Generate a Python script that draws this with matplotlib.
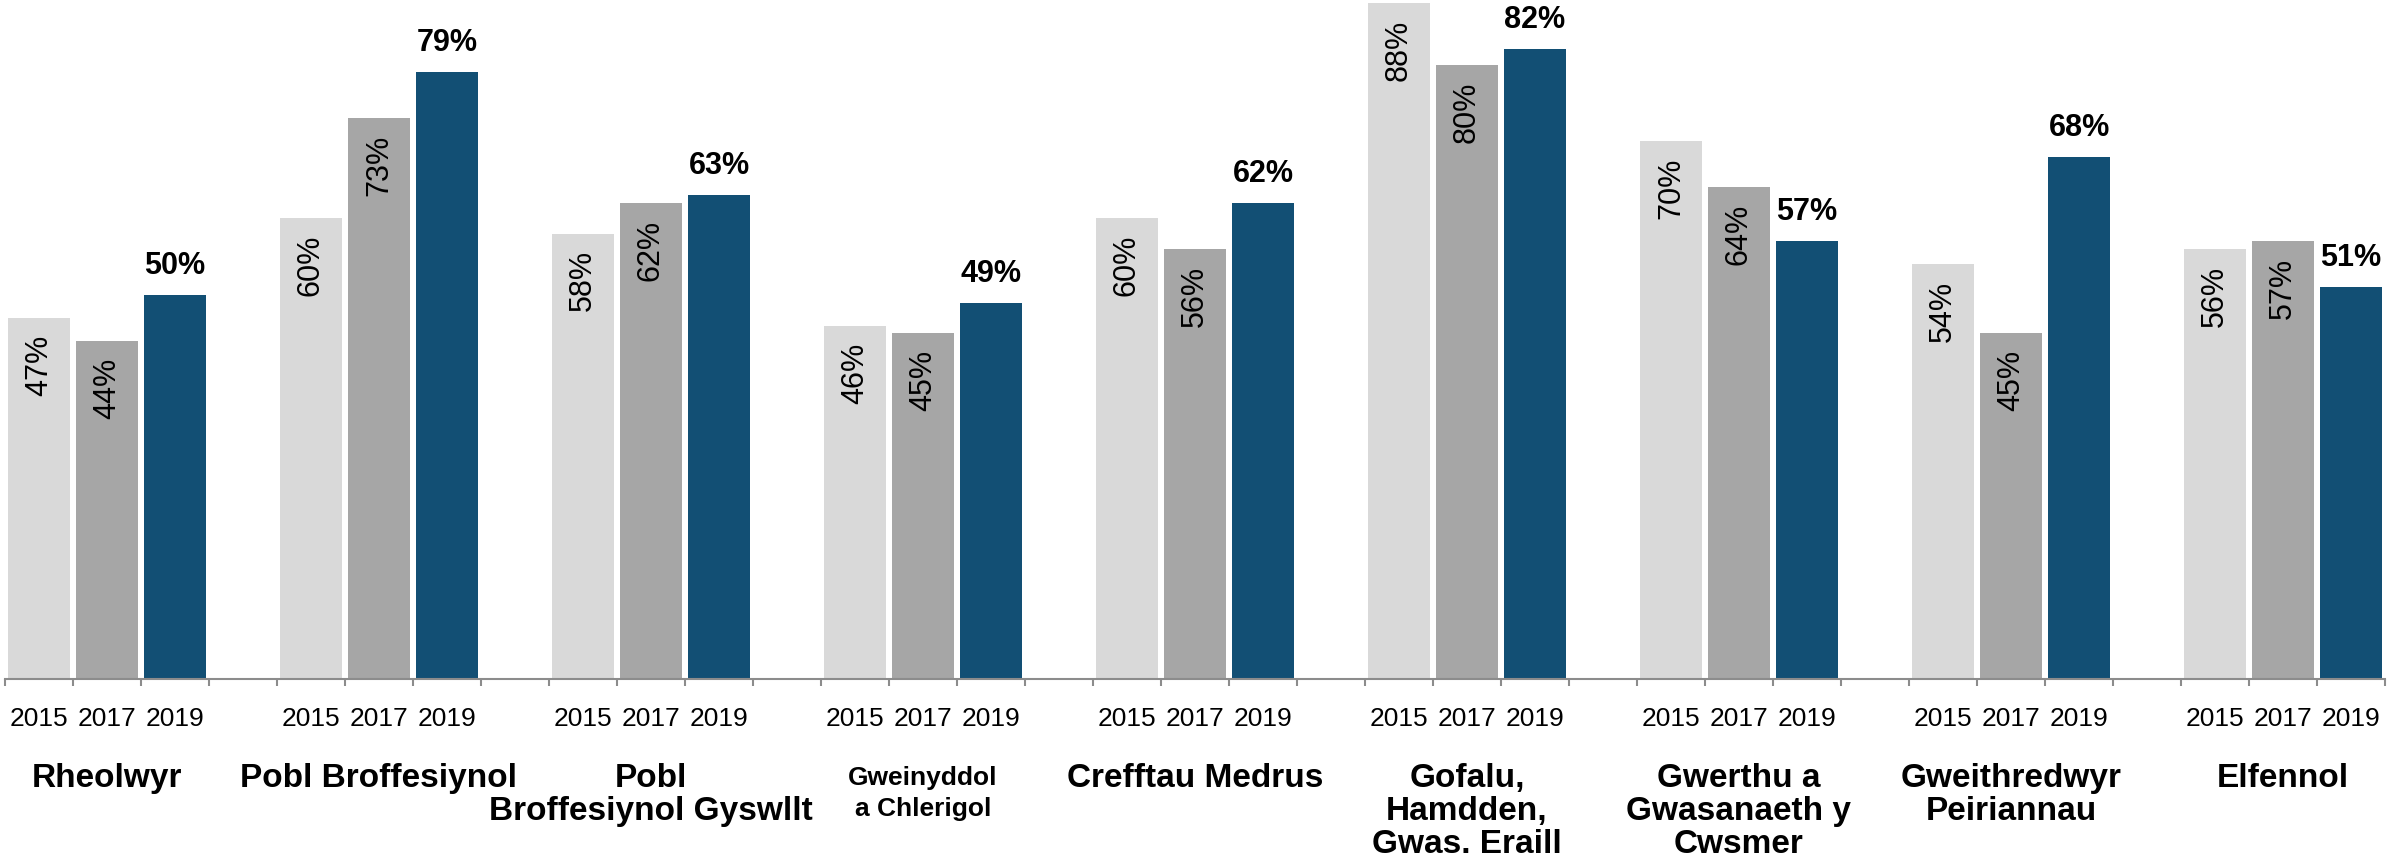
import matplotlib
matplotlib.use("Agg")
import matplotlib.pyplot as plt
import matplotlib.transforms as mtransforms
from matplotlib import font_manager
import numpy as np

# data
categories = ["Rheolwyr", "Pobl Broffesiynol", "Pobl\nBroffesiynol Gyswllt",
              "Gweinyddol\na Chlerigol", "Crefftau Medrus",
              "Gofalu,\nHamdden,\nGwas. Eraill", "Gwerthu a\nGwasanaeth y\nCwsmer",
              "Gweithredwyr\nPeiriannau", "Elfennol"]
cat_sizes = [24, 24, 24, 19, 24, 24, 24, 24, 24]
years = ["2015", "2017", "2019"]
v2015 = [47, 60, 58, 46, 60, 88, 70, 54, 56]
v2017 = [44, 73, 62, 45, 56, 80, 64, 45, 57]
v2019 = [50, 79, 63, 49, 62, 82, 57, 68, 51]

colors = ["#D9D9D9", "#A6A6A6", "#124F74"]

names = {f.name for f in font_manager.fontManager.ttflist}
narrow = "Liberation Sans Narrow" if "Liberation Sans Narrow" in names else "Liberation Sans"

H = 861
fig = plt.figure(figsize=(23.87, 8.61), dpi=100)
ax = fig.add_axes([5 / 2387, 182 / H, 2380 / 2387, 679 / H])

n = len(categories)
group_x = np.arange(n) * 4
series = [v2015, v2017, v2019]
bw = 0.91

for i, vals in enumerate(series):
    xs = group_x + i
    ax.bar(xs, vals, width=bw, color=colors[i], zorder=2)
    for x, v in zip(xs, vals):
        if i < 2:
            ax.annotate(f"{v}%", (x, v), xytext=(0, -12), textcoords="offset points",
                        rotation=90, ha="center", va="top", fontsize=22,
                        family="Liberation Sans", color="black")
        else:
            ax.annotate(f"{v}%", (x, v), xytext=(0, 10), textcoords="offset points",
                        ha="center", va="bottom", fontsize=22, fontweight="bold",
                        family="Liberation Sans", color="black")

ax.set_xlim(-0.5, 4 * n - 1 - 0.5)
ax.set_ylim(0, 679 / 7.68)

# year labels under each bar
bar_pos = np.concatenate([group_x + i for i in range(3)])
bar_lab = [y for y in years for _ in range(n)]
ax.set_xticks(bar_pos)
ax.set_xticklabels(bar_lab, fontsize=19, family=narrow)
ax.tick_params(axis="x", which="major", length=0, pad=20)
ax.set_xticks(np.arange(-0.5, 4 * n - 1, 1.0), minor=True)
ax.tick_params(axis="x", which="minor", length=5, width=1.5, color="#8C8C8C", direction="out")
ax.set_yticks([])

for s in ["top", "right", "left"]:
    ax.spines[s].set_visible(False)
ax.spines["bottom"].set_color("#8C8C8C")
ax.spines["bottom"].set_linewidth(1.5)

# category labels, one text per line
trans = mtransforms.blended_transform_factory(ax.transData, fig.transFigure)
for gx, cat, fs in zip(group_x, categories, cat_sizes):
    base = 787 if fs >= 24 else 785
    step = 33 if fs >= 24 else 31
    for j, line in enumerate(cat.split("\n")):
        ax.text(gx + 1, 1 - (base + j * step) / H, line, transform=trans,
                ha="center", va="baseline", fontsize=fs, fontweight="bold",
                family=narrow)

fig.savefig("out.png", dpi=100)
